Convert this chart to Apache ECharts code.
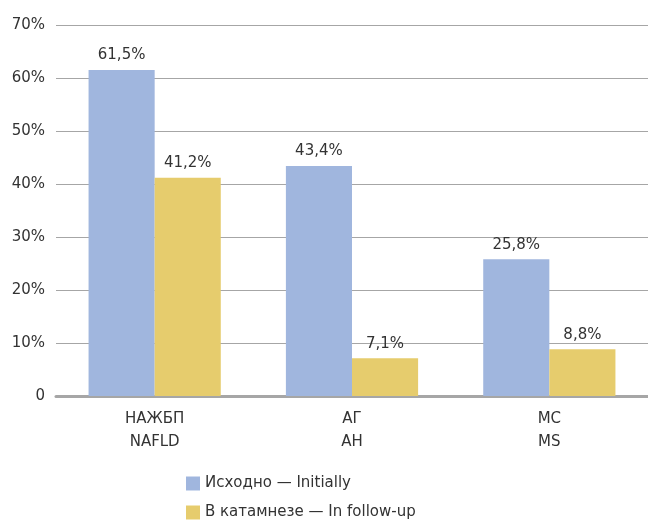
<!DOCTYPE html>
<html>
<head>
<meta charset="utf-8">
<script src="https://cdn.jsdelivr.net/npm/echarts@6/dist/echarts.min.js"></script>
<style>
  html, body { margin: 0; padding: 0; background: #fff; }
  #chart { width: 648px; height: 520px; }
</style>
</head>
<body>
<div id="chart"></div>
<script>
const categories = ['НАЖБП\nNAFLD', 'АГ\nAH', 'МС\nMS'];
const initially = [61.5, 43.4, 25.8];
const followUp = [41.2, 7.1, 8.8];
const seriesNames = ['Исходно — Initially', 'В катамнезе — In follow-up'];

const myChart = echarts.init(document.getElementById('chart'));
const font = 'DejaVu Sans';
const pct = function (p) { return p.value.toFixed(1).replace('.', ',') + '%'; };

const option = {
  animation: false,
  textStyle: { fontFamily: font },
  grid: { left: 56, right: 0, top: 25, bottom: 124 },
  legend: {
    orient: 'vertical',
    left: 186,
    top: 476,
    height: 44,
    padding: 0,
    itemWidth: 14,
    itemHeight: 14,
    itemGap: 14,
    itemStyle: { borderWidth: 0 },
    icon: 'rect',
    selectedMode: false,
    textStyle: { fontFamily: font, fontSize: 15, color: '#333' },
    data: seriesNames
  },
  xAxis: {
    type: 'category',
    data: categories,
    axisLine: { lineStyle: { color: '#a6a6a6', width: 3 } },
    axisTick: { show: false },
    axisLabel: { fontFamily: font, fontSize: 15, color: '#333', lineHeight: 23, margin: 12 }
  },
  yAxis: {
    type: 'value',
    min: 0,
    max: 70,
    interval: 10,
    axisLine: { show: false },
    axisTick: { show: false },
    splitLine: { lineStyle: { color: '#a6a6a6', width: 1 } },
    axisLabel: {
      fontFamily: font, fontSize: 15, color: '#333', margin: 11,
      formatter: function (v) { return v === 0 ? '0' : v + '%'; }
    }
  },
  series: [
    {
      name: seriesNames[0],
      type: 'bar',
      data: initially,
      barGap: '0%',
      barCategoryGap: '33%',
      itemStyle: { color: '#a0b6de' },
      label: { show: true, position: 'top', distance: 7, fontFamily: font, fontSize: 15, color: '#333', formatter: pct }
    },
    {
      name: seriesNames[1],
      type: 'bar',
      data: followUp,
      barGap: '0%',
      barCategoryGap: '33%',
      itemStyle: { color: '#e6cc6d' },
      label: { show: true, position: 'top', distance: 7, fontFamily: font, fontSize: 15, color: '#333', formatter: pct }
    }
  ]
};
myChart.setOption(option);
</script>
</body>
</html>
